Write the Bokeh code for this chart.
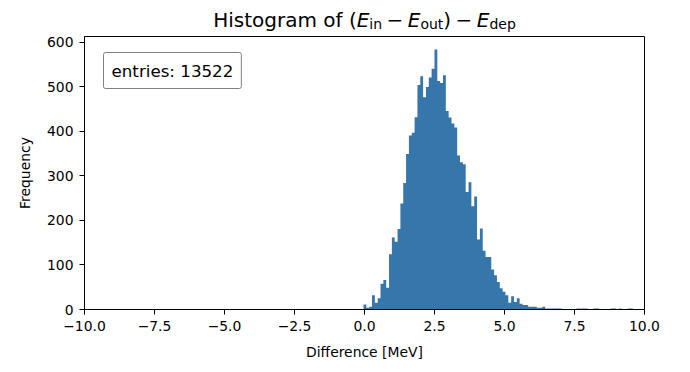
from bokeh.plotting import figure
from bokeh.layouts import column
from bokeh.models import Range1d, FixedTicker, Label, ColumnDataSource
from bokeh.embed import file_html
from bokeh.resources import INLINE

# ---- data ----
bin_start = -0.036
bin_width = 0.1014
counts = [
    11, 4, 6, 32, 15, 25, 58, 66, 49, 124, 162, 152, 181,
    238, 284, 349, 391, 397, 432, 504, 524, 477, 500, 521, 541, 584,
    513, 509, 526, 446, 431, 418, 409, 346, 331, 326, 264, 286, 232, 254, 157, 182, 132, 118,
    118, 90, 77, 62, 48, 40, 32, 15, 30, 17, 25, 13, 10, 10, 6, 6, 6, 4, 4, 6, 2, 2, 2, 2, 2, 2,
    0, 0, 0, 0, 0,
    2, 2, 2, 2,
    0, 0,
    2, 2,
    0, 0, 0, 0,
    2, 2,
    0,
    2,
    0, 0,
    2, 2,
]
n_entries = 13522
x_ticks = [-10, -7.5, -5, -2.5, 0, 2.5, 5, 7.5, 10]
x_tick_labels = ["\u221210.0", "\u22127.5", "\u22125.0", "\u22122.5", "0.0", "2.5", "5.0", "7.5", "10.0"]
y_ticks = [0, 100, 200, 300, 400, 500, 600]
y_tick_labels = ["0", "100", "200", "300", "400", "500", "600"]
x_label = "Difference [MeV]"
y_label = "Frequency"

edges = [bin_start + i * bin_width for i in range(len(counts) + 1)]
src = ColumnDataSource(dict(x=edges, y1=[0] * len(edges), y2=counts + [counts[-1]]))

FONT = "DejaVu Sans"
BAR = "#3776ab"
TOP = 33

# ---- title strip (separate svg figure, no axes) ----
t = figure(width=690, height=TOP, output_backend="svg", toolbar_location=None,
           title_location=None, x_axis_type=None, y_axis_type=None,
           x_range=Range1d(0, 1), y_range=Range1d(0, 1),
           min_border=0, min_border_left=0, min_border_right=0,
           min_border_top=0, min_border_bottom=0)
t.outline_line_color = None
t.grid.visible = False
t.background_fill_color = "white"
t.border_fill_color = "white"

base_y = 13.5
sub_y = base_y - 4.0
pieces = [
    ("Histogram of (", 128.7, base_y, "20px", "normal"),
    ("E", 272.2, base_y, "20px", "italic"),
    ("in", 284.8, sub_y, "14px", "normal"),
    ("\u2212", 302.0, base_y, "20px", "normal"),
    ("E", 323.3, base_y, "20px", "italic"),
    ("out", 335.9, sub_y, "14px", "normal"),
    (")", 358.8, base_y, "20px", "normal"),
    ("\u2212", 371.0, base_y, "20px", "normal"),
    ("E", 392.3, base_y, "20px", "italic"),
    ("dep", 404.9, sub_y, "14px", "normal"),
]
for txt, x, y, fs, st in pieces:
    t.add_layout(Label(x=x, y=y, x_units="screen", y_units="screen", text=txt,
                       text_font=FONT, text_font_size=fs, text_font_style=st,
                       text_color="black", text_align="left", text_baseline="alphabetic"))

# ---- main histogram ----
p = figure(width=690, height=372 - TOP, output_backend="svg", toolbar_location=None,
           title_location=None,
           x_range=Range1d(-10, 10), y_range=Range1d(0, max(counts) * 1.05),
           min_border_left=84, min_border_right=46, min_border_top=36 - TOP,
           min_border_bottom=63)
p.varea_step(x="x", y1="y1", y2="y2", source=src, step_mode="after", fill_color=BAR)

p.grid.visible = False
p.outline_line_color = "black"
p.outline_line_width = 1
p.background_fill_color = "white"
p.border_fill_color = "white"

p.xaxis.ticker = FixedTicker(ticks=x_ticks)
p.xaxis.major_label_overrides = {tk: s for tk, s in zip(x_ticks, x_tick_labels)}
p.yaxis.ticker = FixedTicker(ticks=y_ticks)
p.yaxis.major_label_overrides = {tk: s for tk, s in zip(y_ticks, y_tick_labels)}
p.xaxis.axis_label = x_label
p.yaxis.axis_label = y_label
for ax in (p.xaxis, p.yaxis):
    ax.axis_line_color = "black"
    ax.major_tick_line_color = "black"
    ax.major_tick_in = 0
    ax.major_tick_out = 5
    ax.minor_tick_line_color = None
    ax.major_label_text_font = FONT
    ax.major_label_text_font_size = "13.9px"
    ax.major_label_text_color = "black"
    ax.major_label_standoff = 6
    ax.axis_label_text_font = FONT
    ax.axis_label_text_font_size = "13.9px"
    ax.axis_label_text_font_style = "normal"
    ax.axis_label_text_color = "black"
p.xaxis.axis_label_standoff = 10
p.yaxis.axis_label_standoff = 11

fh = 273  # frame height in px
p.add_layout(Label(x=19, y=fh - 34, x_units="screen", y_units="screen",
                   text="entries: %d" % n_entries, text_font=FONT, text_font_size="16.7px",
                   text_color="black", text_align="left", text_baseline="middle",
                   background_fill_color="white", border_line_color="#808080",
                   border_line_width=1, padding=8, border_radius=2))

layout = column(t, p, spacing=0)
open("out.html", "w").write(file_html(layout, INLINE))
